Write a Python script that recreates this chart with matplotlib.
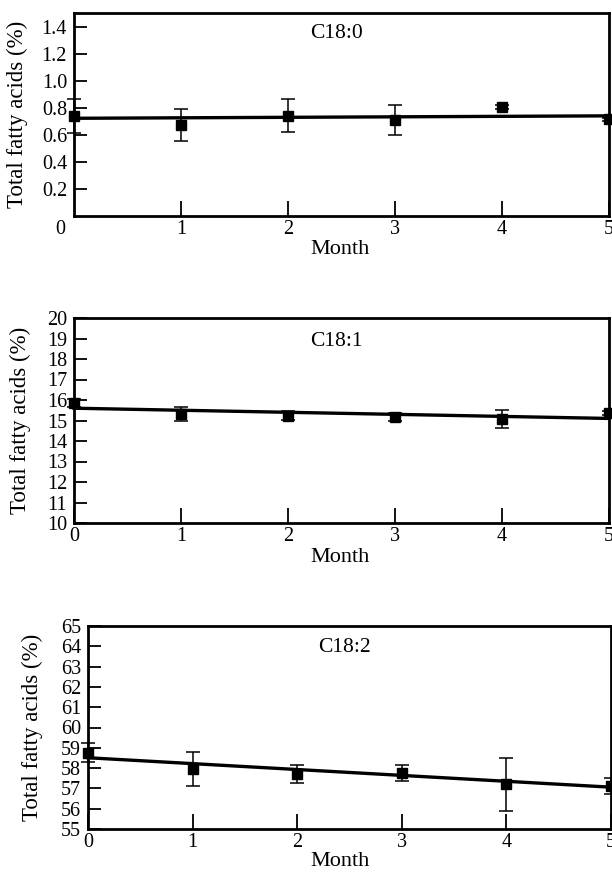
import matplotlib.pyplot as plt
import matplotlib.transforms as mtransforms

plt.rcParams['font.family'] = ['Liberation Serif', 'DejaVu Serif']

months = [0, 1, 2, 3, 4, 5]

# C18:0
c180_mean = [0.738, 0.672, 0.742, 0.710, 0.805, 0.714]
c180_err = [0.125, 0.118, 0.122, 0.113, 0.012, 0.012]
c180_fit = [0.722, 0.740]

# C18:1
c181_mean = [15.84, 15.32, 15.24, 15.19, 15.07, 15.35]
c181_err = [0.20, 0.33, 0.20, 0.20, 0.43, 0.10]
c181_fit = [15.60, 15.10]

# C18:2
c182_mean = [58.75, 57.95, 57.70, 57.75, 57.20, 57.10]
c182_err = [0.47, 0.85, 0.43, 0.40, 1.31, 0.40]
c182_fit = [58.51, 57.06]

panels = [
    ("C18:0", c180_mean, c180_err, c180_fit, (0, 1.5),
     [0.2, 0.4, 0.6, 0.8, 1.0, 1.2, 1.4], ["0.2", "0.4", "0.6", "0.8", "1.0", "1.2", "1.4"]),
    ("C18:1", c181_mean, c181_err, c181_fit, (10, 20),
     list(range(10, 21)), [str(v) for v in range(10, 21)]),
    ("C18:2", c182_mean, c182_err, c182_fit, (55, 65),
     list(range(55, 66)), [str(v) for v in range(55, 66)]),
]

W, H = 612, 874
fig = plt.figure(figsize=(W / 100, H / 100), dpi=100)

# pixel boxes: left, right, top, bottom
boxes = [(74, 609, 13, 216), (74, 609, 318, 523), (88, 611, 626, 829)]
ylab_x = [17, 20, 32]
month_y = [249, 557, 862]
title_y = [33, 342, 647]

for i, (name, mean, err, fit, ylim, yt, ytl) in enumerate(panels):
    l, r, t, b = boxes[i]
    ax = fig.add_axes([l / W, 1 - b / H, (r - l) / W, (b - t) / H])
    ax.plot([0, 5], fit, color='black', lw=2.4, zorder=2, clip_on=False)
    ax.errorbar(months, mean, yerr=err, fmt='s', color='black', ms=7.5,
                elinewidth=1.1, capsize=5, capthick=1.1, zorder=3, clip_on=False)
    ax.set_xlim(0, 5)
    ax.set_ylim(*ylim)
    ax.set_yticks(yt)
    ax.set_yticklabels(ytl)
    if i == 0:
        ax.set_xticks([1, 2, 3, 4, 5])
        ax.set_xticklabels(["1", "2", "3", "4", "5"])
        off = mtransforms.offset_copy(ax.transData, fig=fig, x=-9, y=-4, units='dots')
        ax.text(0, 0, "0", transform=off, ha='right', va='top', fontsize=14.5)
    else:
        ax.set_xticks(months)
        ax.set_xticklabels([str(m) for m in months])
    ax.tick_params(axis='both', direction='in', labelsize=14.5, width=1.3)
    ax.tick_params(axis='x', length=11, pad=3)
    ax.tick_params(axis='y', length=9, pad=5)
    for s in ax.spines.values():
        s.set_linewidth(2)
    ax.text(0.49, 1 - (title_y[i] - t) / (b - t), name, transform=ax.transAxes,
            ha='center', va='center', fontsize=15.5)
    fig.text(ylab_x[i] / W, 1 - (t + b) / 2 / H, "Total fatty acids (%)",
             rotation=90, ha='center', va='center', fontsize=16.5)
    fig.text(340 / W, 1 - month_y[i] / H, "Month", ha='center', va='center', fontsize=16)

fig.savefig("out.png", dpi=100)
